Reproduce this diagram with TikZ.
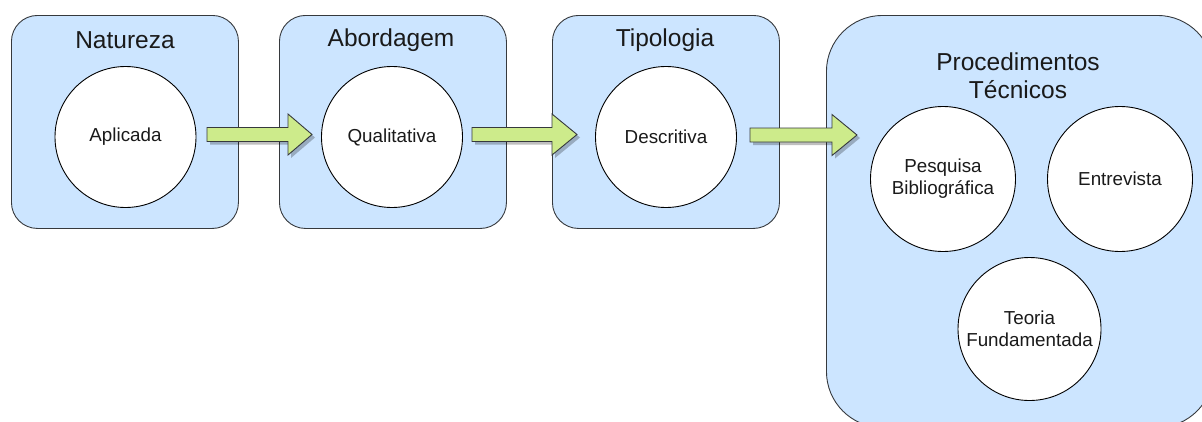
\documentclass[tikz,border=0pt]{standalone}
\usepackage{fontspec}
\setmainfont{Liberation Sans}
\definecolor{boxfill}{RGB}{204,229,255}
\definecolor{boxline}{RGB}{54,57,61}
\definecolor{arrowfill}{RGB}{205,235,139}
\definecolor{txt}{RGB}{26,26,26}
\newcommand\myblockarrow[5]{% name, x1, xb, x2, yc
  \coordinate (#1-s) at (#2,#5);
  \coordinate (#1-e) at (#4,#5);
  \fill[black, opacity=0.25] ([shift={(3,3)}]#2,#5-7) -- ([shift={(3,3)}]#3,#5-7) -- ([shift={(3,3)}]#3,#5-20.5) -- ([shift={(3,3)}]#4,#5) -- ([shift={(3,3)}]#3,#5+20.5) -- ([shift={(3,3)}]#3,#5+7) -- ([shift={(3,3)}]#2,#5+7) -- cycle;
  \draw[blockarrow] (#2,#5-7) -- (#3,#5-7) -- (#3,#5-20.5) -- (#4,#5) -- (#3,#5+20.5) -- (#3,#5+7) -- (#2,#5+7) -- cycle;
}
\begin{document}
\begin{tikzpicture}[x=1pt,y=-1pt,
  box/.style={draw=boxline, fill=boxfill, line width=0.9pt, rounded corners=26pt, anchor=north west, inner sep=0pt, minimum width=227pt, minimum height=213pt},
  bigbox/.style={box, rounded corners=56pt, minimum width=387pt, minimum height=412pt},
  title/.style={font=\fontsize{24.5}{28}\selectfont, text=txt, align=center, inner sep=0pt},
  circ/.style={circle, draw=black, fill=white, line width=0.9pt, minimum size=141pt, inner sep=0pt, font=\fontsize{18.8}{22}\selectfont, text=txt, align=center},
  blockarrow/.style={draw=boxline, fill=arrowfill, line width=0.9pt, line join=miter}]
\useasboundingbox (0,0) rectangle (1202,421);
\clip (0,0) rectangle (1202,421);
% boxes
\node[box] (b1) at (11,15) {};
\node[box] (b2) at (279,15) {};
\node[box] (b3) at (552,15) {};
\node[bigbox] (b4) at (826,15) {};
% titles
\node[title] (t1) at (125,40) {Natureza};
\node[title] (t2) at (391,40) {Abordagem};
\node[title] (t3) at (665,40) {Tipologia};
\node[title] (t4) at (1018,76) {Procedimentos\\Técnicos};
% arrows
\myblockarrow{a1}{207}{288}{312}{134.5}
\myblockarrow{a2}{472}{552}{577}{134.5}
\myblockarrow{a3}{750}{832}{857}{135}
% circles
\node[circ] (c1) at (125.5,137) {Aplicada};
\node[circ] (c2) at (392,137) {Qualitativa};
\node[circ] (c3) at (666,137) {Descritiva};
\node[circ, minimum size=145pt] (c4) at (943,179) {Pesquisa\\Bibliográfica};
\node[circ, minimum size=145pt] (c5) at (1120,179) {Entrevista};
\node[circ, minimum size=143pt] (c6) at (1029.5,329) {Teoria\\Fundamentada};
\end{tikzpicture}
\end{document}
